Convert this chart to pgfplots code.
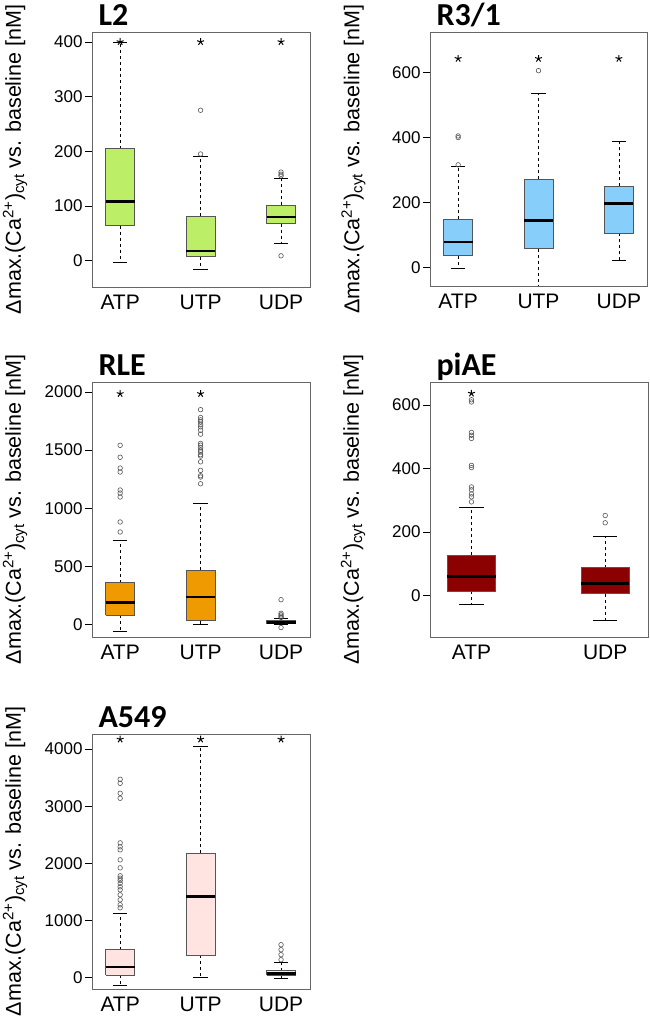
\documentclass[border=0pt]{standalone}
\usepackage{fontspec}
\setmainfont{Liberation Sans}
\newfontfamily\carlito{Carlito}
\usepackage{pgfplots}
\pgfplotsset{compat=1.18}

\definecolor{cL}{HTML}{BCEE68}
\definecolor{cR}{HTML}{87CEFA}
\definecolor{cRLE}{HTML}{EE9A00}
\definecolor{cPI}{HTML}{8B0000}
\definecolor{cA}{HTML}{FFE4E1}
\definecolor{axframe}{HTML}{666666}
\definecolor{boxline}{HTML}{555555}
\definecolor{outl}{HTML}{555555}

\newcommand{\ylab}{Δmax.(Ca\textsuperscript{2+})\textsubscript{cyt} vs. baseline [nM]}

\pgfplotsset{
  panel/.style={
    scale only axis, anchor=south west,
    width=218pt, height=255pt,
    axis line style={draw=axframe, line width=0.8pt},
    x tick style={draw=none},
    ytick pos=left, tick align=outside, major tick length=7pt,
    y tick style={black, line width=0.6pt},
    scaled y ticks=false,
    /pgf/number format/1000 sep={},
    /pgf/number format/assume math mode=true,
    yticklabel style={font=\fontsize{17}{17}\selectfont, xshift=1pt},
    xticklabel style={font=\fontsize{21}{21}\selectfont, yshift=2pt},
    every axis y label/.style={at={(rel axis cs:-0.353,0.5)}, anchor=center, rotate=90, font=\fontsize{21.5}{21.5}\selectfont},
    ylabel={\ylab},
    every axis title/.style={at={(rel axis cs:0,1)}, anchor=base west, xshift=3pt, yshift=6pt, font=\carlito\bfseries\fontsize{32}{32}\selectfont},
  },
  whisk/.style={black, line width=0.6pt, dashed},
  capl/.style={black, line width=0.6pt},
  outs/.style={only marks, mark=o, mark size=2.3pt, mark options={draw=outl, line width=0.6pt, fill=none, solid}},
  sigstar/.style={only marks, mark=star, mark size=3.6pt, mark options={black, line width=1pt}},
}

% #1 position, #2 lower whisker, #3 lower quartile, #4 median, #5 upper quartile, #6 upper whisker, #7 fill colour
\newcommand{\bxp}[7]{%
  \pgfmathsetmacro{\bxl}{#1-0.18}\pgfmathsetmacro{\bxr}{#1+0.18}%
  \pgfmathsetmacro{\cpl}{#1-0.09}\pgfmathsetmacro{\cpr}{#1+0.09}%
  \addplot[whisk] coordinates {(#1,#3) (#1,#2)};
  \addplot[whisk] coordinates {(#1,#5) (#1,#6)};
  \addplot[capl] coordinates {(\cpl,#2) (\cpr,#2)};
  \addplot[capl] coordinates {(\cpl,#6) (\cpr,#6)};
  \addplot[fill=#7, draw=boxline, line width=0.8pt] coordinates {(\bxl,#3) (\bxr,#3) (\bxr,#5) (\bxl,#5) (\bxl,#3)};
  \addplot[black, line width=2.6pt] coordinates {(\bxl,#4) (\bxr,#4)};
}

\begin{document}
\begin{tikzpicture}
\useasboundingbox (0,0) rectangle (649pt,1017pt);

% ---------------- L2
\begin{axis}[panel, at={(92pt,730pt)}, title={L2},
  xmin=0.65, xmax=3.36, ymin=-48, ymax=418,
  xtick={1,2,3}, xticklabels={ATP,UTP,UDP}, ytick={0,100,200,300,400}]
\bxp{1}{-3}{64}{108}{205}{399}{cL}
\bxp{2}{-15}{7}{18}{81}{190}{cL}
\bxp{3}{32}{68}{80}{101}{150}{cL}
\addplot[outs] coordinates {(2,195) (2,275) (3,155) (3,158) (3,162) (3,9)};
\addplot[sigstar] coordinates {(1,400) (2,400) (3,400)};
\end{axis}

% ---------------- R3/1
\begin{axis}[panel, at={(430pt,731pt)}, width=217pt, height=254pt, title={R3/1},
  xmin=0.65, xmax=3.35, ymin=-57, ymax=725,
  xtick={1,2,3}, xticklabels={ATP,UTP,UDP}, ytick={0,200,400,600}]
\bxp{1}{-3}{36}{78}{148}{313}{cR}
\bxp{2}{-80}{58}{144}{271}{535}{cR}
\bxp{3}{23}{106}{197}{250}{389}{cR}
\addplot[outs] coordinates {(1,316) (1,400) (1,405) (2,606)};
\addplot[sigstar] coordinates {(1,643) (2,643) (3,643)};
\end{axis}

% ---------------- RLE
\begin{axis}[panel, at={(92pt,380pt)}, title={RLE},
  xmin=0.65, xmax=3.36, ymin=-109, ymax=2086,
  xtick={1,2,3}, xticklabels={ATP,UTP,UDP}, ytick={0,500,1000,1500,2000}]
\bxp{1}{-60}{80}{189}{360}{720}{cRLE}
\bxp{2}{-3}{31}{235}{464}{1044}{cRLE}
\bxp{3}{0}{5}{15}{30}{49}{cRLE}
\addplot[outs] coordinates {(1,795) (1,881) (1,1096) (1,1130) (1,1156) (1,1311) (1,1345) (1,1438) (1,1541)
  (2,1848) (2,1780) (2,1760) (2,1743) (2,1720) (2,1700) (2,1671) (2,1637) (2,1557) (2,1542) (2,1520) (2,1499) (2,1485) (2,1460) (2,1448) (2,1399) (2,1325) (2,1279) (2,1268) (2,1210)
  (3,60) (3,70) (3,82) (3,95) (3,212) (3,-28)};
\addplot[sigstar] coordinates {(1,1985) (2,1985)};
\end{axis}

% ---------------- piAE
\begin{axis}[panel, at={(430pt,380pt)}, title={piAE},
  xmin=0.69, xmax=2.32, ymin=-131, ymax=673,
  xtick={1,2}, xticklabels={ATP,UDP}, ytick={0,200,400,600}]
\bxp{1}{-27}{14}{60}{126}{279}{cPI}
\bxp{2}{-79}{5}{38}{87}{186}{cPI}
\addplot[outs] coordinates {(1,295) (1,311) (1,320) (1,333) (1,342) (1,403) (1,410) (1,495) (1,505) (1,514) (1,610) (1,617) (2,229) (2,252)};
\addplot[sigstar] coordinates {(1,637)};
\end{axis}

% ---------------- A549
\begin{axis}[panel, at={(92pt,28pt)}, title={A549},
  xmin=0.65, xmax=3.36, ymin=-198, ymax=4262,
  xtick={1,2,3}, xticklabels={ATP,UTP,UDP}, ytick={0,1000,2000,3000,4000}]
\bxp{1}{-128}{47}{186}{489}{1130}{cA}
\bxp{2}{0}{396}{1415}{2172}{4041}{cA}
\bxp{3}{-5}{40}{70}{125}{262}{cA}
\addplot[outs] coordinates {(1,3470) (1,3400) (1,3225) (1,3138) (1,2358) (1,2288) (1,2236) (1,2061) (1,1921) (1,1782) (1,1740) (1,1700) (1,1650) (1,1590) (1,1537) (1,1450) (1,1362) (1,1275) (1,1223)
  (3,314) (3,402) (3,489) (3,576)};
\addplot[sigstar] coordinates {(1,4169) (2,4169) (3,4169)};
\end{axis}
\end{tikzpicture}
\end{document}
